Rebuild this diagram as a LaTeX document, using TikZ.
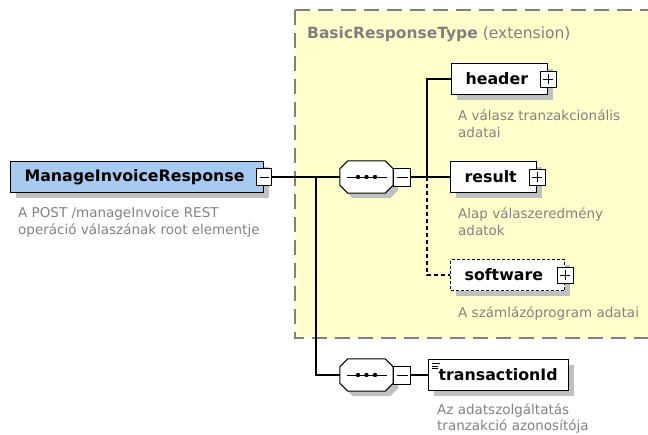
\documentclass[tikz,border=0pt]{standalone}
\usepackage{fontspec}
\setmainfont{DejaVu Sans}

\definecolor{xsdyellow}{RGB}{255,255,204}
\definecolor{xsdblue}{RGB}{166,202,240}
\definecolor{xsdgray}{RGB}{128,128,128}
\definecolor{xsdshadow}{RGB}{192,192,192}
\definecolor{xsddesc}{RGB}{130,130,130}

\tikzset{
  boxshadow/.style={preaction={fill=xsdshadow, transform canvas={xshift=5pt, yshift=-5pt}}},
  elem/.style={draw=black, line width=1.2pt, fill=white, anchor=west, minimum height=31pt, inner xsep=14pt, inner ysep=0pt, align=left, font=\fontsize{15.8}{18}\selectfont\bfseries, boxshadow},
  seq/.style={minimum width=53pt, minimum height=32pt, inner sep=0pt},
  pmbox/.style={draw=black, line width=1pt, fill=white, minimum width=16pt, minimum height=16pt, inner sep=0pt},
  minus/.style={pmbox, path picture={\draw[line width=1pt] ([xshift=3pt]path picture bounding box.west) -- ([xshift=-3pt]path picture bounding box.east);}},
  plus/.style={pmbox, path picture={\draw[line width=1pt] ([xshift=3pt]path picture bounding box.west) -- ([xshift=-3pt]path picture bounding box.east);
      \draw[line width=1pt] ([yshift=3pt]path picture bounding box.south) -- ([yshift=-3pt]path picture bounding box.north);}},
  desc/.style={anchor=north west, align=left, inner sep=0pt, text=xsddesc, font=\fontsize{13.5}{16.5}\selectfont},
  conn/.style={draw=black, line width=1.2pt},
  optional/.style={dash pattern=on 4pt off 3pt}
}

\begin{document}
\begin{tikzpicture}[x=1pt, y=-1pt]
\useasboundingbox (0,0) rectangle (648,434);

\fill[xsdyellow] (295,10) rectangle (660,338);
\draw[xsdgray, line width=1.5pt, dash pattern=on 15pt off 8pt] (295,10) -- (660,10);
\draw[xsdgray, line width=1.5pt, dash pattern=on 15pt off 8pt] (295,10) -- (295,338) -- (660,338);
\draw (307,38) node [anchor=base west, inner sep=0pt, text=xsdgray, font=\fontsize{15.5}{18}\selectfont] (ttl) {\textbf{BasicResponseType} (extension)};

\draw (10,177) node [elem, fill=xsdblue, text width=225pt] (mir) {ManageInvoiceResponse};
\draw (mir.east) node [minus, minimum height=17pt, minimum width=15pt] (mirm) {};

\draw (366.5,177) node [seq] (seq1) {};
\draw (366.5,375) node [seq] (seq2) {};
\foreach \s in {seq1,seq2} {
  \fill[xsdshadow, transform canvas={xshift=5pt, yshift=-5pt}] ([xshift=8pt]\s.north west) -- ([xshift=-8pt]\s.north east) -- ([yshift=-8pt]\s.north east) -- ([yshift=8pt]\s.south east)
    -- ([xshift=-8pt]\s.south east) -- ([xshift=8pt]\s.south west) -- ([yshift=8pt]\s.south west) -- ([yshift=-8pt]\s.north west) -- cycle;
  \filldraw[fill=white, draw=black, line width=1pt] ([xshift=8pt]\s.north west) -- ([xshift=-8pt]\s.north east) -- ([yshift=-8pt]\s.north east) -- ([yshift=8pt]\s.south east)
    -- ([xshift=-8pt]\s.south east) -- ([xshift=8pt]\s.south west) -- ([yshift=8pt]\s.south west) -- ([yshift=-8pt]\s.north west) -- cycle;
  \draw[line width=1pt] ([xshift=7pt]\s.west) -- ([xshift=-6pt]\s.east);
  \foreach \k in {-8.5,0,8.5} \fill ([xshift=\k pt]\s.center) circle (2.2pt);
}
\draw (seq1.east) node [minus, anchor=west, minimum width=17pt, minimum height=18pt] (seq1m) {};
\draw (seq2.east) node [minus, anchor=west, minimum width=17pt, minimum height=18pt] (seq2m) {};

\draw (451,79) node [elem, text width=68pt] (hdr) {header};
\draw (hdr.east) node [plus] (hdrp) {};
\draw (450,177) node [elem, text width=58pt] (res) {result};
\draw (res.east) node [plus] (resp) {};
\draw (450,275) node [elem, dash pattern=on 3pt off 2pt, text width=86pt] (sw) {software};
\draw (sw.east) node [plus] (swp) {};
\draw (428,375) node [elem, inner xsep=10pt, text width=120pt,
  path picture={\draw[line width=0.8pt] ([xshift=3pt,yshift=-4pt]path picture bounding box.north west) -- ++(8pt,0pt);
    \draw[line width=0.8pt] ([xshift=3pt,yshift=-6.5pt]path picture bounding box.north west) -- ++(6pt,0pt);
    \draw[line width=0.8pt] ([xshift=3pt,yshift=-9pt]path picture bounding box.north west) -- ++(6pt,0pt);}] (tid) {transactionId};

\coordinate (j1) at (316,177);
\coordinate (j2) at (427,177);
\draw[conn] (mirm.east) -- (seq1.west);
\draw[conn] (j1) |- (seq2.west);
\draw[conn] (seq1m.east) -- (res.west);
\draw[conn] (j2) |- (hdr.west);
\draw[conn, optional] (j2) |- (sw.west);
\draw[conn] (seq2m.east) -- (tid.west);

\draw (18,207.5) node [desc] (mird) {A POST /manageInvoice REST\\operáció válaszának root elementje};
\draw (458,110) node [desc] (hdrd) {A válasz tranzakcionális\\adatai};
\draw (458,207.5) node [desc] (resd) {Alap válaszeredmény\\adatok};
\draw (458,306.5) node [desc] (swd) {A számlázóprogram adatai};
\draw (437,403) node [desc] (tidd) {Az adatszolgáltatás\\tranzakció azonosítója};

\end{tikzpicture}
\end{document}
